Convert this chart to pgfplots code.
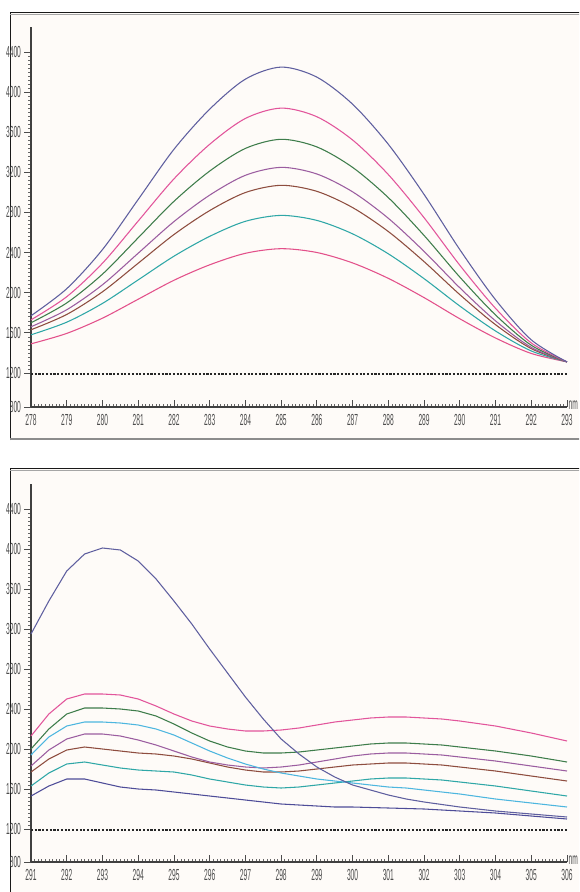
\documentclass[border=0pt]{standalone}
\usepackage{pgfplots}
\pgfplotsset{compat=1.18}
\usepackage{pgfplotstable}
\usepackage{fontspec}
\setmainfont{Liberation Sans}
\definecolor{bgc}{HTML}{FEFBF8}
\definecolor{cblue}{HTML}{5F5F9F}
\definecolor{cpink}{HTML}{E2559B}
\definecolor{cgreen}{HTML}{3E7D4B}
\definecolor{cpurple}{HTML}{9B5DA0}
\definecolor{cbrown}{HTML}{8E4D3F}
\definecolor{ccyan}{HTML}{2FA7A7}
\definecolor{cpinkb}{HTML}{E3508A}
\definecolor{clight}{HTML}{4DB6DF}
\definecolor{cindigo}{HTML}{4E4C98}

\pgfplotstableread{
x blue pink green purple brown cyan pinkb
278 1770 1729 1700 1660 1630 1580 1490
279 2040 1960 1898 1830 1783 1706 1594
280 2430 2294 2185 2079 2009 1893 1746
281 2930 2715 2548 2394 2294 2128 1935
282 3430 3135 2911 2709 2580 2364 2124
283 3830 3480 3213 2973 2819 2562 2278
284 4130 3738 3439 3171 2999 2712 2393
285 4250 3841 3530 3250 3071 2771 2439
286 4150 3755 3454 3184 3011 2721 2401
287 3880 3523 3250 3006 2849 2587 2297
288 3480 3178 2948 2742 2610 2388 2143
289 2980 2748 2571 2412 2310 2140 1951
290 2430 2274 2156 2049 1981 1867 1740
291 1930 1844 1778 1719 1681 1618 1548
292 1530 1499 1476 1455 1442 1419 1394
293 1310 1310 1310 1310 1310 1310 1310
}\toptable

\pgfplotstableread{
x B P G L M R T I
291 3150 2130 2000 1940 1830 1770 1630 1530
291.5 3480 2350 2200 2120 1990 1900 1760 1630
292 3780 2500 2350 2230 2100 1990 1850 1700
292.5 3950 2550 2410 2270 2150 2020 1870 1700
293 4010 2550 2410 2270 2150 2000 1840 1660
293.5 3990 2540 2400 2260 2130 1980 1810 1620
294 3880 2500 2380 2240 2090 1960 1790 1600
294.5 3700 2430 2330 2200 2040 1950 1780 1590
295 3480 2350 2250 2140 1980 1930 1770 1570
295.5 3250 2280 2160 2060 1920 1900 1740 1550
296 3000 2230 2080 1980 1870 1860 1700 1530
296.5 2760 2200 2020 1910 1840 1820 1670 1510
297 2520 2180 1980 1850 1820 1790 1640 1490
297.5 2300 2180 1960 1800 1810 1770 1620 1470
298 2100 2190 1960 1760 1820 1770 1610 1450
298.5 1950 2210 1970 1730 1840 1780 1620 1440
299 1820 2240 1990 1700 1870 1800 1640 1430
299.5 1720 2270 2010 1680 1900 1820 1660 1420
300 1640 2290 2030 1660 1930 1840 1680 1420
300.5 1590 2310 2050 1640 1950 1850 1700 1415
301 1540 2320 2060 1620 1960 1860 1710 1410
301.5 1500 2320 2060 1610 1960 1860 1710 1405
302 1470 2310 2050 1590 1950 1850 1700 1400
302.5 1445 2300 2040 1570 1940 1840 1690 1390
303 1420 2280 2020 1550 1920 1820 1670 1380
304 1380 2230 1980 1500 1880 1780 1630 1360
305 1350 2160 1930 1460 1830 1730 1580 1330
306 1320 2080 1870 1420 1780 1680 1530 1300
}\bottable

\pgfplotsset{
  panel/.style={
    scale only axis,
    width=402pt,
    axis lines*=left,
    axis line style={black!75, line width=0.9pt},
    ymax=4650,
    ytick={1200,1600,...,4400},
    minor y tick num=9,
    minor x tick num=9,
    major tick length=5pt,
    minor tick length=2pt,
    xtick align=inside,
    ytick align=outside,
    tick style={black!70, line width=0.6pt},
    minor tick style={black!60, line width=0.4pt},
    tick label style={font=\fontsize{10}{10}\selectfont, text=black!70},
    /pgf/number format/1000 sep={},
    /pgf/number format/assume math mode=true,
    xticklabel={\scalebox{0.5}[1.2]{\pgfmathprintnumber{\tick}}},
    yticklabel={\scalebox{0.5}[1.2]{\pgfmathprintnumber{\tick}}},
    yticklabel style={xshift=1pt},
    xticklabel style={yshift=-2pt},
    clip=false,
  },
  curve/.style={line width=0.8pt},
}

\begin{document}
\begin{tikzpicture}
\useasboundingbox (0pt,0pt) rectangle (434.25pt,-669pt);
\clip (0pt,0pt) rectangle (434.25pt,-669pt);
\begin{scope}[x=0.75pt,y=-0.75pt]
\fill[white] (0,0) rectangle (579,892);
\fill[bgc] (10,12) rectangle (600,440);
\fill[bgc] (10,468) rectangle (600,900);
\draw[black!90, line width=1.4pt] (10.5,440) -- (10.5,12.5) -- (600,12.5);
\draw[black!35, line width=0.8pt] (10,14.5) -- (600,14.5);
\draw[black!45, line width=1.2pt] (10,439) -- (600,439);
\draw[black!90, line width=1.4pt] (10.5,900) -- (10.5,468.5) -- (600,468.5);
\draw[black!35, line width=0.8pt] (10,470.5) -- (600,470.5);
\end{scope}

\begin{axis}[panel,
  at={(23.25pt,-305.25pt)}, anchor=south west,
  height=285pt,
  xmin=278, xmax=293, ymin=860,
  xtick={278,...,293},
  extra y ticks={860},
  extra y tick labels={\scalebox{0.5}[1.2]{800}},
]
\addplot[black!85, line width=0.9pt, dash pattern=on 1.6pt off 1.2pt] coordinates {(278,1190) (293,1190)};
\addplot[curve, cpinkb, smooth] table[x=x,y=pinkb] {\toptable};
\addplot[curve, ccyan, smooth] table[x=x,y=cyan] {\toptable};
\addplot[curve, cbrown, smooth] table[x=x,y=brown] {\toptable};
\addplot[curve, cpurple, smooth] table[x=x,y=purple] {\toptable};
\addplot[curve, cgreen, smooth] table[x=x,y=green] {\toptable};
\addplot[curve, cpink, smooth] table[x=x,y=pink] {\toptable};
\addplot[curve, cblue, smooth] table[x=x,y=blue] {\toptable};
\node[anchor=west, font=\fontsize{10}{10}\selectfont, text=black!70, inner sep=0pt] at (axis cs:293.04,880) {\scalebox{0.5}[1.2]{nm}};
\end{axis}

\begin{axis}[panel,
  at={(23.25pt,-646.5pt)}, anchor=south west,
  height=283.5pt,
  xmin=291, xmax=306, ymin=870,
  xtick={291,...,306},
  extra y ticks={870},
  extra y tick labels={\scalebox{0.5}[1.2]{800}},
]
\addplot[black!85, line width=0.9pt, dash pattern=on 1.6pt off 1.2pt] coordinates {(291,1190) (306,1190)};
\addplot[curve, cindigo] table[x=x,y=I] {\bottable};
\addplot[curve, ccyan] table[x=x,y=T] {\bottable};
\addplot[curve, cbrown] table[x=x,y=R] {\bottable};
\addplot[curve, cpurple] table[x=x,y=M] {\bottable};
\addplot[curve, clight] table[x=x,y=L] {\bottable};
\addplot[curve, cgreen] table[x=x,y=G] {\bottable};
\addplot[curve, cpink] table[x=x,y=P] {\bottable};
\addplot[curve, cblue] table[x=x,y=B] {\bottable};
\node[anchor=west, font=\fontsize{10}{10}\selectfont, text=black!70, inner sep=0pt] at (axis cs:306.04,890) {\scalebox{0.5}[1.2]{nm}};
\end{axis}
\end{tikzpicture}
\end{document}
